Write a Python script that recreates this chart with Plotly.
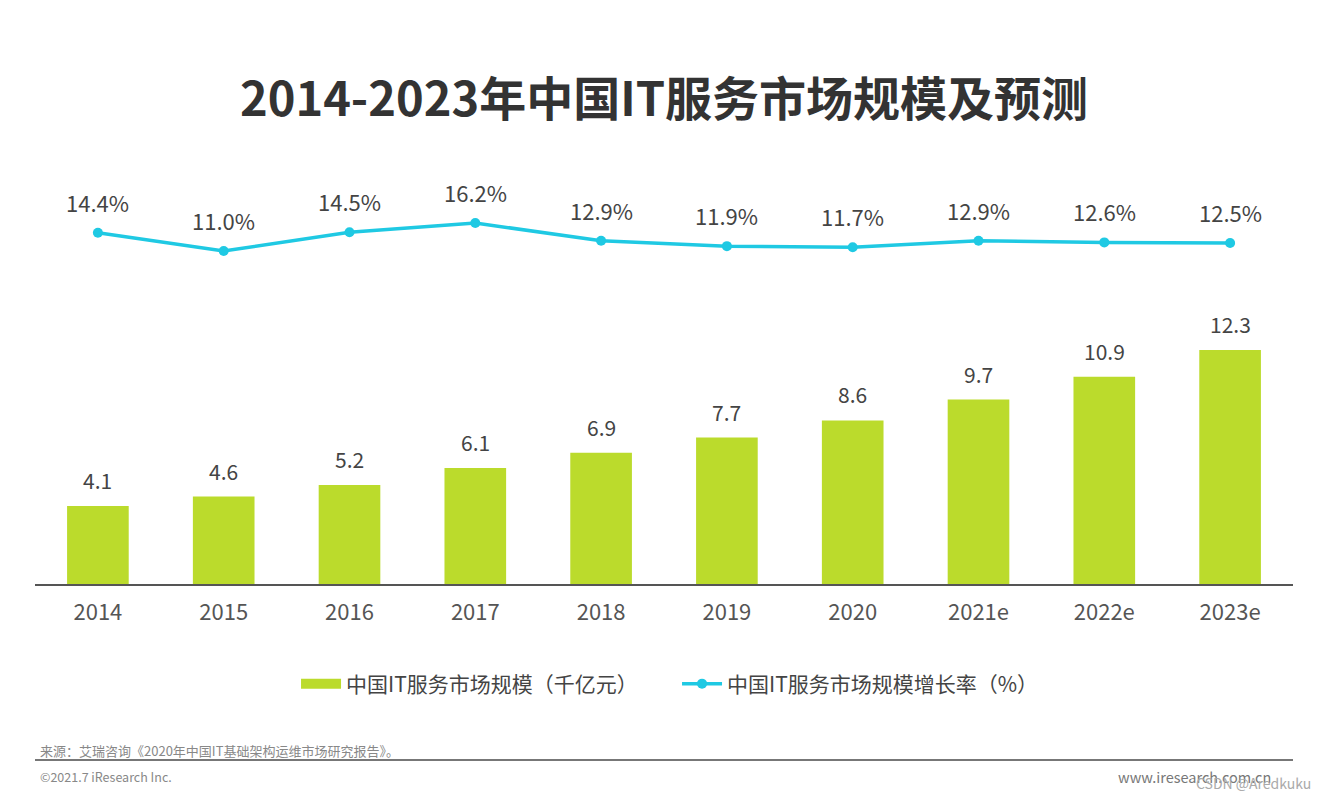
import plotly.graph_objects as go

years = ["2014", "2015", "2016", "2017", "2018", "2019", "2020", "2021e", "2022e", "2023e"]
market_size = [4.1, 4.6, 5.2, 6.1, 6.9, 7.7, 8.6, 9.7, 10.9, 12.3]
growth_rate = [14.4, 11.0, 14.5, 16.2, 12.9, 11.9, 11.7, 12.9, 12.6, 12.5]

BAR_COLOR = "#BBDB2C"
LINE_COLOR = "#1FC9E3"
TEXT_COLOR = "#444444"
FONT = "Noto Sans CJK SC, Noto Sans, sans-serif"

fig = go.Figure()

fig.add_trace(go.Bar(
    x=years, y=market_size, marker_color=BAR_COLOR, marker_line_width=0,
    showlegend=False, yaxis="y", hoverinfo="x+y",
))
fig.add_trace(go.Scatter(
    x=years, y=growth_rate, yaxis="y2", mode="lines+markers",
    line=dict(color=LINE_COLOR, width=3.5), marker=dict(size=10, color=LINE_COLOR),
    showlegend=False,
))
# legend entries
fig.add_trace(go.Scatter(
    x=[years[0]], y=[None], mode="lines", line=dict(color=BAR_COLOR, width=11),
    name="中国IT服务市场规模（千亿元）",
))
fig.add_trace(go.Scatter(
    x=[years[0]], y=[None], mode="lines+markers", line=dict(color=LINE_COLOR, width=3.5),
    marker=dict(size=10, color=LINE_COLOR),
    name="中国IT服务市场规模增长率（%）",
))

annotations = []
# category axis: annotations addressed by category index
for i, v in enumerate(market_size):
    annotations.append(dict(x=i, y=v, xref="x", yref="y", text=f"{v:.1f}",
                            showarrow=False, yshift=26, yanchor="middle",
                            font=dict(size=21, color=TEXT_COLOR, family=FONT)))
for i, v in enumerate(growth_rate):
    annotations.append(dict(x=i, y=v, xref="x", yref="y2", text=f"{v:.1f}%",
                            showarrow=False, yshift=31, yanchor="middle",
                            font=dict(size=22, color=TEXT_COLOR, family=FONT)))

# footer
annotations += [
    dict(xref="paper", yref="paper", x=0.002, y=-0.3825, xanchor="left", yanchor="middle",
         text="来源：艾瑞咨询《2020年中国IT基础架构运维市场研究报告》。",
         showarrow=False, font=dict(size=13, color="#888888", family=FONT)),
    dict(xref="paper", yref="paper", x=0.002, y=-0.4447, xanchor="left", yanchor="middle",
         text="©2021.7 iResearch Inc.",
         showarrow=False, font=dict(size=12.5, color="#888888", family=FONT)),
    dict(xref="paper", yref="paper", x=0.984, y=-0.4447, xanchor="right", yanchor="middle",
         text="www.iresearch.com.cn",
         showarrow=False, font=dict(size=14.5, color="#777777", family=FONT)),
    dict(xref="paper", yref="paper", x=1.016, y=-0.458, xanchor="right", yanchor="middle",
         text="CSDN @Aredkuku",
         showarrow=False, font=dict(size=14, color="#AAAAAA", family=FONT)),
]

fig.update_layout(
    width=1328, height=799,
    margin=dict(l=27, r=43, t=142, b=223),
    paper_bgcolor="white", plot_bgcolor="white",
    font=dict(family=FONT, color=TEXT_COLOR),
    title=dict(text="<b>2014-2023年中国IT服务市场规模及预测</b>", x=0.5 - 8 / 1328,
               xanchor="center", y=1 - 92 / 799, yref="container", yanchor="middle",
               font=dict(size=47, color="#333333", family=FONT)),
    bargap=0.51,
    xaxis=dict(type="category", categoryorder="array", categoryarray=years,
               range=[-0.5, len(years) - 0.5], autorange=False,
               showline=True, linecolor="#555555", linewidth=1.5, ticks="",
               tickfont=dict(size=22, color="#555555", family=FONT),
               ticklabelstandoff=8, showgrid=False, fixedrange=True),
    yaxis=dict(range=[0, 434 / 19.02], visible=False, showgrid=False, zeroline=False),
    yaxis2=dict(range=[11 - 333 / 5.38, 11 + 101 / 5.38], overlaying="y", visible=False,
                showgrid=False, zeroline=False),
    legend=dict(orientation="h", x=0.2075, xanchor="left", y=-0.2304, yanchor="middle",
                font=dict(size=21, color="#444444", family=FONT), itemwidth=40,
                tracegroupgap=0, entrywidth=326),
    annotations=annotations,
    shapes=[dict(type="line", xref="paper", yref="paper", x0=0.0, x1=1.0,
                 y0=-0.4055, y1=-0.4055, line=dict(color="#777777", width=2))],
)

fig.write_html("out.html")
